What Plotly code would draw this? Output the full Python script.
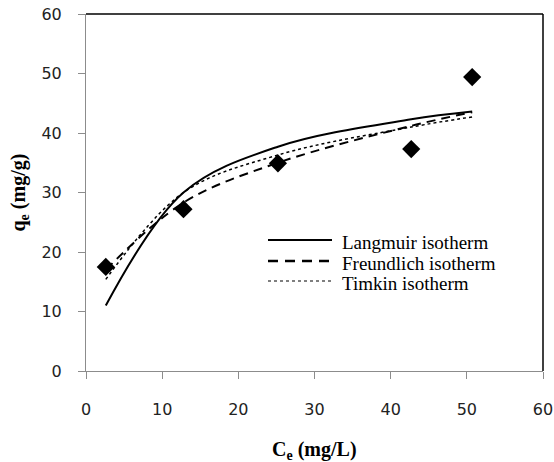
import plotly.graph_objects as go

# Data
ce = [2.6, 12.8, 25.2, 42.7, 50.7]
qe_exp = [17.5, 27.2, 34.9, 37.3, 49.4]
langmuir = [11.0, 30.0, 37.7, 42.3, 43.6]
freundlich = [17.0, 28.3, 35.0, 41.2, 43.5]
timkin = [15.4, 30.0, 36.3, 41.0, 42.7]

x_ticks = [0, 10, 20, 30, 40, 50, 60]
y_ticks = [0, 10, 20, 30, 40, 50, 60]

legend_names = ["Langmuir isotherm", "Freundlich isotherm", "Timkin isotherm"]

serif = "Liberation Serif"
sans = "DejaVu Sans"

styles = [dict(color="black", width=2),
          dict(color="black", width=2, dash="9px,6px"),
          dict(color="black", width=1.5, dash="dot")]

fig = go.Figure()
fig.add_trace(go.Scatter(x=ce, y=qe_exp, mode="markers", showlegend=False,
                         marker=dict(symbol="diamond", size=14, color="black")))
for name, ys, st in zip(legend_names, [langmuir, freundlich, timkin], styles):
    fig.add_trace(go.Scatter(x=ce, y=ys, mode="lines", name=name, showlegend=False,
                             line=dict(shape="spline", smoothing=1, **st)))

axis_common = dict(showgrid=False, zeroline=False, showline=True, linecolor="#8c8c8c",
                   linewidth=1, ticks="outside", tickcolor="#8c8c8c", ticklen=7,
                   automargin=False,
                   tickfont=dict(family=sans, size=16, color="#222"))

# manual legend (paper coordinates of the plot area)
L, R, T, B, W, H = 86, 543, 14, 371, 554, 462
def px_x(p):
    return (p - L) / (R - L)
def px_y(p):
    return (B - p) / (B - T)

line_rows = [240, 261, 281]
text_rows = [243, 263, 283]
shapes = [
    dict(type="line", xref="paper", yref="paper", x0=0, x1=1, y0=1, y1=1,
         line=dict(color="black", width=1.5)),
    dict(type="line", xref="paper", yref="paper", x0=1, x1=1, y0=0, y1=1,
         line=dict(color="black", width=1.5)),
]
annotations = []
leg_styles = [dict(color="black", width=2),
              dict(color="black", width=2.5, dash="10px,7px"),
              dict(color="black", width=1.2, dash="dot")]
for name, ly, ty, st in zip(legend_names, line_rows, text_rows, leg_styles):
    shapes.append(dict(type="line", xref="paper", yref="paper",
                       x0=px_x(268), x1=px_x(332), y0=px_y(ly), y1=px_y(ly), line=st))
    annotations.append(dict(text=name, xref="paper", yref="paper", x=px_x(341), y=px_y(ty),
                            xanchor="left", yanchor="middle", showarrow=False, borderpad=0,
                            font=dict(family=serif, size=19, color="black")))

# axis titles as annotations placed like the reference
annotations.append(dict(text="<b>C<sub>e</sub> (mg/L)</b>", xref="paper", yref="paper",
                        x=0.5, y=px_y(450), xanchor="center", yanchor="middle",
                        showarrow=False, font=dict(family=serif, size=20, color="black")))
annotations.append(dict(text="<b>q<sub>e</sub> (mg/g)</b>", xref="paper", yref="paper",
                        x=px_x(19), y=0.5, xanchor="center", yanchor="middle", textangle=-90,
                        showarrow=False, font=dict(family=serif, size=20, color="black")))

fig.update_layout(
    width=W, height=H,
    margin=dict(l=L, r=W - R, t=T, b=H - B),
    paper_bgcolor="white", plot_bgcolor="white",
    xaxis=dict(range=[0, 60], tickvals=x_ticks, ticklabelstandoff=17, **axis_common),
    yaxis=dict(range=[0, 60], tickvals=y_ticks, ticklabelstandoff=13, **axis_common),
    showlegend=False,
    shapes=shapes,
    annotations=annotations,
)

fig.write_html("out.html", config={"displayModeBar": False},
               post_script="document.body.style.margin='0px';")
